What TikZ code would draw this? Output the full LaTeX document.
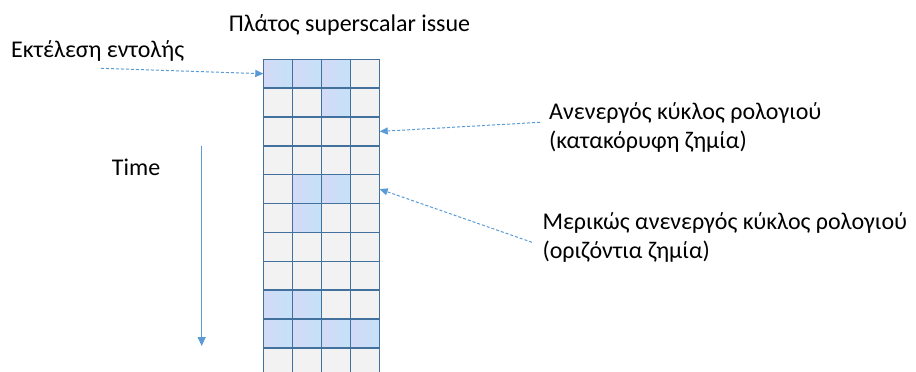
\documentclass[tikz,border=0pt]{standalone}
\usepackage{fontspec}
\setmainfont{Carlito}
\usetikzlibrary{arrows.meta}
\definecolor{gridline}{RGB}{65,113,156}
\definecolor{arrowblue}{RGB}{91,155,213}
\definecolor{emptycell}{RGB}{242,242,242}
\definecolor{busyA}{RGB}{212,218,246}
\definecolor{busyB}{RGB}{196,226,248}
\tikzset{
  cell/.style={draw=gridline, line width=1.5pt, fill=emptycell, minimum width=29.1pt, minimum height=28.85pt, inner sep=0pt, outer sep=0pt, anchor=north west},
  busy/.style={cell, left color=busyA, right color=busyB},
  lbl/.style={font=\fontsize{24}{29}\selectfont, inner sep=0pt, align=left},
  note/.style={draw=arrowblue, line width=1pt, dash pattern=on 3pt off 2pt, -{Triangle[length=8pt,width=7pt]}},
  timearrow/.style={draw=arrowblue, line width=1.2pt, -{Triangle[length=9pt,width=8pt]}},
}
\begin{document}
\begin{tikzpicture}[x=1pt,y=-1pt]
\useasboundingbox (0,0) rectangle (916,372);
\foreach \r/\row in {0/{busy,busy,busy,cell},1/{cell,cell,busy,cell},2/{cell,cell,cell,cell},3/{cell,cell,cell,cell},4/{cell,busy,busy,cell},5/{cell,busy,cell,cell},6/{cell,cell,cell,cell},7/{cell,cell,cell,cell},8/{busy,busy,cell,cell},9/{busy,busy,busy,busy},10/{cell,cell,cell,cell}}{
  \foreach \k [count=\c from 0] in \row {
    \node[\k] (c-\r-\c) at ({263.3+29.1*\c},{59.3+28.85*\r}) {};
  }
}
\node[lbl, anchor=base] (width) at (349.5,31.7) {Πλάτος superscalar issue};
\node[lbl, anchor=base west] (exec) at (11,57.3) {Εκτέλεση εντολής};
\node[lbl, anchor=base west] (time) at (111.7,175) {Time};
\node[lbl, anchor=base west] (idle) at (549,148.3) {Ανενεργός κύκλος ρολογιού\\(κατακόρυφη ζημία)};
\node[lbl, anchor=base west] (part) at (542.3,258.3) {Μερικώς ανενεργός κύκλος ρολογιού\\(οριζόντια ζημία)};
\coordinate (execfrom) at (101,68.3);
\coordinate (idlefrom) at (540,122.3);
\coordinate (partfrom) at (532,242.3);
\coordinate (ttop) at (201.7,145.7);
\coordinate (tbot) at (201.7,346);
\draw[note] (execfrom) -- (c-0-0.west);
\draw[note] (idlefrom) -- (c-2-3.east);
\draw[note] (partfrom) -- (c-4-3.east);
\draw[timearrow] (ttop) -- (tbot);
\end{tikzpicture}
\end{document}
